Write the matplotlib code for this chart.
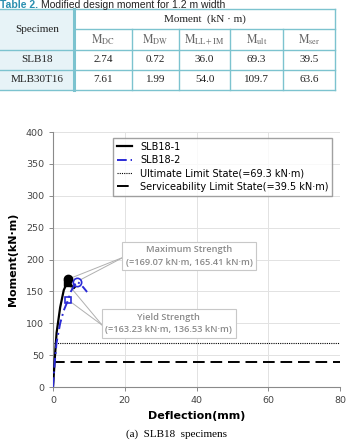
import matplotlib.pyplot as plt
from matplotlib.patches import Rectangle

plt.rcParams['mathtext.fontset'] = 'stix'

# table data
specimens = ['SLB18', 'MLB30T16']
moment_cols = [r'$\mathrm{M}_{\mathrm{DC}}$', r'$\mathrm{M}_{\mathrm{DW}}$',
               r'$\mathrm{M}_{\mathrm{LL+IM}}$', r'$\mathrm{M}_{\mathrm{ult}}$',
               r'$\mathrm{M}_{\mathrm{ser}}$']
table_vals = [['2.74', '0.72', '36.0', '69.3', '39.5'],
              ['7.61', '1.99', '54.0', '109.7', '63.6']]

# curve data
slb1_x = [0, 0.5, 1.0, 2.0, 3.0, 3.9, 4.2, 4.8, 5.3, 5.8, 6.1]
slb1_y = [0, 45, 85, 125, 152, 163.2, 169.1, 163, 158, 155, 157]
slb2_x = [0, 0.5, 1.0, 2.0, 3.0, 4.2, 5.0, 6.0, 6.7, 7.5, 8.5, 9.5]
slb2_y = [0, 40, 70, 100, 120, 136.5, 150, 160, 165.4, 162, 156, 149]
yield_pts = {'SLB18-1': (3.9, 163.23), 'SLB18-2': (4.2, 136.53)}
max_pts = {'SLB18-1': (4.2, 169.07), 'SLB18-2': (6.7, 165.41)}
uls = 69.3
sls = 39.5

fig = plt.figure(figsize=(3.53, 4.40), dpi=100)

# caption of the table
fig.text(0.0, 1 - 7.5 / 440, 'Table 2.', color='#2a8fb0', fontsize=7.5, fontweight='bold',
         family='Liberation Sans', va='baseline')
fig.text(0.115, 1 - 7.5 / 440, 'Modified design moment for 1.2 m width', color='#222222',
         fontsize=7.5, family='Liberation Sans', va='baseline')

# table
axt = fig.add_axes([0, 1 - 95 / 440, 1, 95 / 440])
axt.set_xlim(0, 353)
axt.set_ylim(95, 0)
axt.axis('off')
edge = '#7cc3cf'
cols = [0, 74, 132, 179, 230, 283, 335]
rows = [9, 29, 50, 70, 90]
axt.add_patch(Rectangle((0, 9), 74, 81, facecolor='#e7f3f7', edgecolor='none'))
for y in [9, 50, 70, 90]:
    axt.plot([0, 335], [y, y], color=edge, lw=1)
axt.plot([74, 335], [29, 29], color=edge, lw=1)
axt.plot([74, 74], [9, 90], color=edge, lw=2.2)
for x in cols[2:6]:
    axt.plot([x, x], [29, 90], color=edge, lw=1)
axt.plot([335, 335], [9, 90], color=edge, lw=1)
tfont = dict(family='Liberation Serif', fontsize=8, ha='center', va='center', color='#222222')
axt.text(37, 29.5, 'Specimen', **tfont)
axt.text(204.5, 19, 'Moment  (kN \u00b7 m)', **tfont)
for i, lab in enumerate(moment_cols):
    axt.text((cols[i + 1] + cols[i + 2]) / 2, 40, lab, fontsize=8.5, ha='center',
             va='center', color='#666666')
for r, name in enumerate(specimens):
    yc = (rows[r + 2] + rows[r + 3]) / 2
    axt.text(37, yc, name, **tfont)
    for i, v in enumerate(table_vals[r]):
        axt.text((cols[i + 1] + cols[i + 2]) / 2, yc, v, **tfont)

# chart
ax = fig.add_axes([53 / 353, 1 - 387 / 440, 287 / 353, 255 / 440])
ax.plot(slb1_x, slb1_y, color='black', lw=1.6, label='SLB18-1', zorder=4)
ax.plot(slb2_x, slb2_y, color='#2b2bd6', lw=1.4, ls=(0, (5, 2, 1, 2)), label='SLB18-2', zorder=4)
ax.axhline(uls, color='black', lw=0.8, ls=(0, (1, 1)), label='Ultimate Limit State(=69.3 kN\u00b7m)')
ax.axhline(sls, color='black', lw=1.4, ls=(0, (6, 3)), label='Serviceability Limit State(=39.5 kN\u00b7m)')

ax.plot(*yield_pts['SLB18-1'], marker='s', ms=5, color='black', zorder=5)
ax.plot(*max_pts['SLB18-1'], marker='o', ms=6, color='black', zorder=5)
ax.plot(*yield_pts['SLB18-2'], marker='s', ms=5, mfc='none', mec='#2b2bd6', mew=1.2, zorder=5)
ax.plot(*max_pts['SLB18-2'], marker='o', ms=6, mfc='none', mec='#2b2bd6', mew=1.2, zorder=5)

# annotations
lcol = '#b0b0b0'
for k in max_pts:
    ax.annotate('', xy=max_pts[k], xytext=(19.8, 204),
                arrowprops=dict(arrowstyle='-', color=lcol, lw=0.7, shrinkA=0, shrinkB=3))
for k in yield_pts:
    ax.annotate('', xy=yield_pts[k], xytext=(13.7, 97),
                arrowprops=dict(arrowstyle='-', color=lcol, lw=0.7, shrinkA=0, shrinkB=3))
box = dict(boxstyle='square,pad=0.4', facecolor='white', edgecolor='#c8c8c8', lw=0.8)
ax.text(38.0, 205.5, 'Maximum Strength\n(=169.07 kN\u00b7m, 165.41 kN\u00b7m)', ha='center', va='center',
        fontsize=6.7, color='#8a8a8a', fontweight='semibold', family='Open Sans', linespacing=1.45,
        bbox=box, zorder=6)
ax.text(32.3, 99.6, 'Yield Strength\n(=163.23 kN\u00b7m, 136.53 kN\u00b7m)', ha='center', va='center',
        fontsize=6.7, color='#8a8a8a', fontweight='semibold', family='Open Sans', linespacing=1.45,
        bbox=box, zorder=6)

ax.set_xlim(0, 80)
ax.set_ylim(0, 400)
ax.set_xticks([0, 20, 40, 60, 80])
ax.set_yticks(range(0, 401, 50))
ax.grid(True, color='#e2e2e2', lw=0.7)
ax.set_axisbelow(True)
for s in ['top', 'right']:
    ax.spines[s].set_visible(False)
for s in ['left', 'bottom']:
    ax.spines[s].set_color('#8a8a8a')
ax.tick_params(labelsize=6.8, colors='#444444', length=3, width=0.7, color='#8a8a8a')
ax.set_xlabel('Deflection(mm)', fontsize=8, fontweight='bold', labelpad=4)
ax.set_ylabel('Moment(kN\u00b7m)', fontsize=8, fontweight='bold', labelpad=6)

leg = ax.legend(loc='upper right', bbox_to_anchor=(0.99, 0.997), fontsize=7, frameon=True,
                fancybox=False, handlelength=1.6, borderpad=0.4, labelspacing=0.35, handletextpad=0.8)
leg.get_frame().set_edgecolor('#8a8a8a')
leg.get_frame().set_linewidth(1.0)

fig.text(176 / 353, 1 - 434 / 440, '(a)  SLB18  specimens', ha='center', va='center',
         fontsize=8, family='Liberation Serif')

plt.savefig('out.png', dpi=100)
